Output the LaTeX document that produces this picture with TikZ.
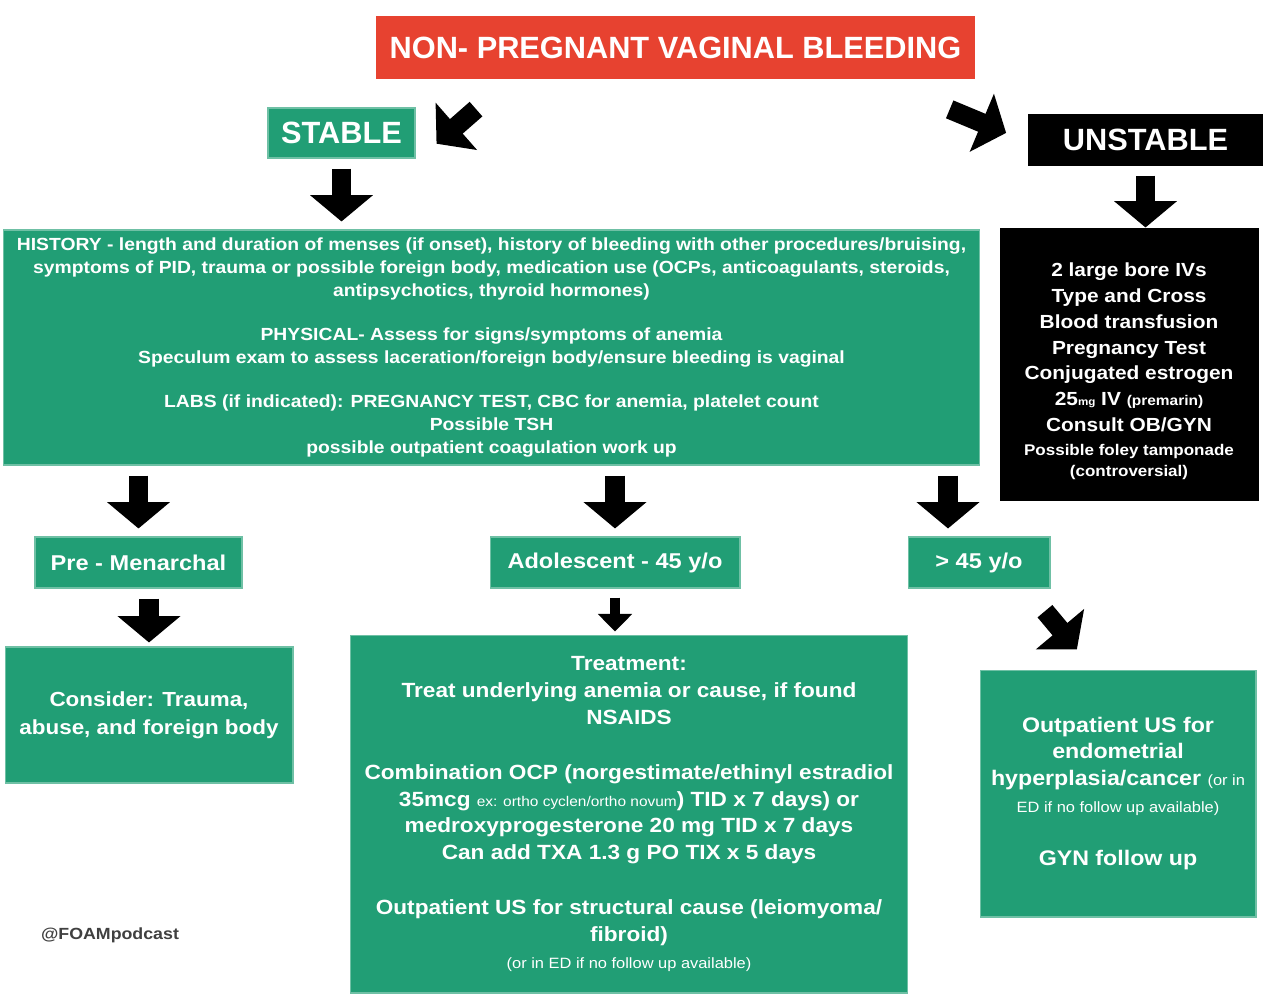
\documentclass[tikz,border=0pt]{standalone}
\usepackage{fontspec}
\setmainfont{Liberation Sans}
\newfontfamily\widefont{Liberation Sans}[FakeStretch=1.1]
\usetikzlibrary{arrows.meta}
\definecolor{bleedred}{RGB}{231,66,48}
\definecolor{foamgreen}{RGB}{33,158,117}
\tikzset{>=stealth,
  box/.style={fill=foamgreen, draw=foamgreen!65!white, line width=0.6pt, text=white, align=center, inner sep=0pt},
  darkbox/.style={box, fill=black, draw=black},
  redbox/.style={box, fill=bleedred, draw=bleedred},
  bigarrow/.style={line width=11pt, -{Triangle[width=35pt,length=15pt]}, shorten <=0.2cm, shorten >=0.16cm},
  smallarrow/.style={line width=5.5pt, -{Triangle[width=19pt,length=10pt]}, shorten <=0.18cm, shorten >=0.06cm}
}
\newcommand{\bigfont}{\bfseries\fontsize{17.5}{20}\selectfont}
\newcommand{\tagfont}{\widefont\bfseries\fontsize{12.2}{14}\selectfont}
\newcommand{\minifont}{\mdseries\fontsize{8.5}{10}\selectfont}

\begin{document}
\begin{tikzpicture}[x=0.02cm, y=-0.02cm]
    \useasboundingbox[fill=white] (0,0) rectangle (1263,993);
    \node[redbox, minimum width=11.98cm, minimum height=1.22cm, font=\bigfont] (title) at (675.5,47.5) {NON- PREGNANT VAGINAL BLEEDING};
    \node[box, minimum width=2.94cm, minimum height=1cm, font=\bigfont] (stable) at (341.5,133) {STABLE};
    \node[darkbox, minimum width=4.7cm, minimum height=1cm, font=\bigfont] (unstable) at (1145.5,140) {UNSTABLE};
    \node[box, minimum width=19.54cm, minimum height=4.7cm, font=\widefont\bfseries\fontsize{10}{13}\selectfont] (hist) at (491.5,347.5)
        {HISTORY - length and duration of menses (if onset), history of bleeding with other procedures/bruising,\\
         symptoms of PID, trauma or possible foreign body, medication use (OCPs, anticoagulants, steroids,\\
         antipsychotics, thyroid hormones)\\[12pt]
         PHYSICAL- Assess for signs/symptoms of anemia\\
         Speculum exam to assess laceration/foreign body/ensure bleeding is vaginal\\[12pt]
         LABS (if indicated): PREGNANCY TEST, CBC for anemia, platelet count\\
         Possible TSH\\
         possible outpatient coagulation work up};
    \node[darkbox, minimum width=5.16cm, minimum height=5.44cm, font=\widefont\bfseries\fontsize{10.8}{14.7}\selectfont] (unstbox) at (1129,364)
        {\rule{0pt}{16pt}2 large bore IVs\\ Type and Cross\\ Blood transfusion\\ Pregnancy Test\\ Conjugated estrogen\\
         25{\fontsize{6}{7}\selectfont mg} IV {\fontsize{8}{9}\selectfont (premarin)}\\ Consult OB/GYN\\[-1pt]
         {\fontsize{8.8}{10.8}\selectfont Possible foley tamponade}\\[-3pt]
         {\fontsize{8.8}{10.8}\selectfont (controversial)}};
    \node[box, minimum width=4.14cm, minimum height=1.02cm, font=\tagfont] (pre) at (138.5,562.5) {Pre - Menarchal};
    \node[box, minimum width=5cm, minimum height=1.02cm, font=\tagfont] (adol) at (615,562.5) {Adolescent - 45 y/o};
    \node[box, minimum width=2.84cm, minimum height=1.02cm, font=\tagfont] (old) at (979,562.5) {> 45 y/o};
    \node[box, minimum width=5.76cm, minimum height=2.72cm, font=\widefont\bfseries\fontsize{11.6}{15.9}\selectfont] (cons) at (149,715)
        {Consider: Trauma,\\ abuse, and foreign body};
    \node[box, minimum width=11.16cm, minimum height=7.16cm, font=\widefont\bfseries\fontsize{11.7}{15.3}\selectfont] (treat) at (629,814)
        {Treatment:\\ Treat underlying anemia or cause, if found\\ NSAIDS\\[16pt]
         Combination OCP (norgestimate/ethinyl estradiol\\
         35mcg {\mdseries\fontsize{8}{9}\selectfont ex: ortho cyclen/ortho novum}) TID x 7 days) or\\
         medroxyprogesterone 20 mg TID x 7 days\\
         Can add TXA 1.3 g PO TIX x 5 days\\[16pt]
         Outpatient US for structural cause (leiomyoma/\\ fibroid)\\
         {\minifont (or in ED if no follow up available)}};
    \node[box, minimum width=5.52cm, minimum height=4.94cm, font=\widefont\bfseries\fontsize{12}{15.3}\selectfont] (outp) at (1118,793.5)
        {Outpatient US for\\ endometrial\\ hyperplasia/cancer {\minifont (or in}\\
         {\minifont ED if no follow up available)}\\[15pt]
         GYN follow up};
    \node[text=black!75, font=\widefont\bfseries\fontsize{9.2}{11}\selectfont] (tag) at (110,935) {@FOAMpodcast};

    \draw[bigarrow] ([shift={(108,24)}]title.south west) -- ([shift={(15,16)}]stable.east);
    \draw[bigarrow] ([shift={(-35,27)}]title.south east) -- ([shift={(-14,-4)}]unstable.west);
    \draw[bigarrow] (stable) -- (stable.south |- hist.north);
    \draw[bigarrow, shorten >=0pt] (unstable) -- (unstable.south |- unstbox.north);
    \draw[bigarrow] (hist.south -| pre) -- (pre);
    \draw[bigarrow] (hist.south -| adol) -- (adol);
    \draw[bigarrow] ([xshift=-0.62cm]hist.south -| old.north) -- ([xshift=-0.62cm]old.north);
    \draw[bigarrow, shorten >=0.08cm] (pre.south -| cons) -- (cons);
    \draw[smallarrow] (adol) -- (adol.south |- treat.north);
    \draw[bigarrow] ([shift={(-12,15)}]old.south east) -- ([shift={(-36,-14)}]outp.north);
\end{tikzpicture}
\end{document}
